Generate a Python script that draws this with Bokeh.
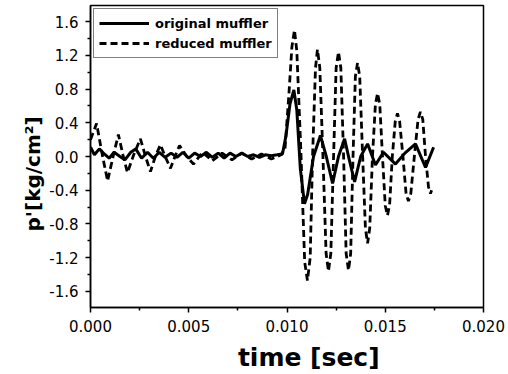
from bokeh.plotting import figure
from bokeh.models import Range1d, FixedTicker, PrintfTickFormatter, Legend, LegendItem
from bokeh.embed import file_html
from bokeh.resources import INLINE

# original muffler (solid)
orig_t = [0.0000, 0.00020, 0.00045, 0.00070, 0.00095, 0.00120, 0.00150, 0.00175,
          0.00205, 0.00230, 0.00260, 0.00290, 0.00320, 0.00350, 0.00380, 0.00410,
          0.00440, 0.00470, 0.00500, 0.00530, 0.00560, 0.00590, 0.00620, 0.00650,
          0.00680, 0.00710, 0.00740, 0.00770, 0.00800, 0.00830, 0.00860, 0.00890,
          0.00920, 0.00950, 0.00977, 0.00995, 0.01015, 0.01035, 0.01050, 0.01068,
          0.01089, 0.01105, 0.01135, 0.01170, 0.01200, 0.01232, 0.01262, 0.01293,
          0.01318, 0.01344, 0.01375, 0.01410, 0.01450, 0.01491, 0.01552, 0.01600,
          0.01654, 0.01705, 0.01746]
orig_p = [0.11, 0.02, 0.09, 0.03, -0.02, 0.05, 0.00, -0.04,
          0.05, 0.09, -0.02, 0.05, -0.02, 0.05, -0.01, 0.04,
          -0.01, 0.05, -0.02, 0.04, 0.00, 0.05, -0.01, 0.04,
          -0.02, 0.04, 0.00, 0.04, 0.00, 0.02, -0.01, 0.02,
          0.01, 0.02, 0.03, 0.25, 0.62, 0.79, 0.55, -0.15,
          -0.56, -0.45, 0.00, 0.25, 0.00, -0.32, 0.00, 0.21,
          -0.05, -0.30, 0.00, 0.15, -0.10, 0.05, -0.09, 0.04,
          0.15, -0.13, 0.11]

# reduced muffler (dashed)
red_t = [0.0000, 0.00031, 0.00060, 0.00087, 0.00115, 0.00142, 0.00165, 0.00188,
         0.00220, 0.00254, 0.00280, 0.00305, 0.00330, 0.00356, 0.00380, 0.00407,
         0.00430, 0.00453, 0.00490, 0.00524, 0.00570, 0.00620, 0.00670, 0.00720,
         0.00770, 0.00820, 0.00870, 0.00920, 0.00970, 0.00990, 0.01010, 0.01025,
         0.01038, 0.01050, 0.01070, 0.01090, 0.01104, 0.01118, 0.01130, 0.01145,
         0.01155, 0.01167, 0.01183, 0.01199, 0.01211, 0.01223, 0.01237, 0.01250,
         0.01262, 0.01274, 0.01288, 0.01301, 0.01313, 0.01324, 0.01336, 0.01348,
         0.01359, 0.01370, 0.01385, 0.01399, 0.01410, 0.01421, 0.01435, 0.01450,
         0.01461, 0.01472, 0.01486, 0.01500, 0.01511, 0.01522, 0.01536, 0.01551,
         0.01562, 0.01573, 0.01590, 0.01606, 0.01618, 0.01630, 0.01648, 0.01667,
         0.01679, 0.01691, 0.01705, 0.01720, 0.01730, 0.01736]
red_p = [0.20, 0.39, 0.02, -0.29, 0.00, 0.26, 0.02, -0.19,
         0.02, 0.21, 0.00, -0.18, 0.00, 0.14, 0.00, -0.14,
         0.00, 0.13, 0.00, -0.09, 0.05, -0.05, 0.04, -0.04,
         0.04, -0.03, 0.03, -0.03, 0.02, 0.10, 0.75, 1.30,
         1.50, 1.25, 0.10, -1.25, -1.47, -1.20, 0.00, 1.05,
         1.27, 1.05, 0.00, -1.15, -1.36, -1.15, 0.00, 1.05,
         1.24, 1.05, 0.00, -1.15, -1.35, -1.15, 0.00, 0.95,
         1.11, 0.95, 0.00, -0.85, -1.03, -0.85, 0.00, 0.62,
         0.75, 0.62, 0.00, -0.58, -0.70, -0.58, 0.00, 0.42,
         0.51, 0.42, 0.00, -0.44, -0.53, -0.44, 0.00, 0.44,
         0.53, 0.44, 0.00, -0.36, -0.44, -0.40]

x_ticks = [0.000, 0.005, 0.010, 0.015, 0.020]
x_minor = [0.0025, 0.0075, 0.0125, 0.0175]
y_ticks = [-1.6, -1.2, -0.8, -0.4, 0.0, 0.4, 0.8, 1.2, 1.6]
y_minor = [-1.4, -1.0, -0.6, -0.2, 0.2, 0.6, 1.0, 1.4]

p = figure(width=508, height=374, output_backend="svg", toolbar_location=None,
           x_range=Range1d(0, 0.020), y_range=Range1d(-1.79, 1.79),
           min_border_left=90, min_border_right=25, min_border_top=5,
           min_border_bottom=67)

p.xgrid.visible = False
p.ygrid.visible = False
p.outline_line_color = "black"
p.outline_line_width = 1.5
p.background_fill_color = "white"
p.border_fill_color = "white"

r1 = p.line(orig_t, orig_p, line_color="black", line_width=3)
r2 = p.line(red_t, red_p, line_color="black", line_width=2.8, line_dash="7 4")

for ax, ticks, minor, fmt in ((p.xaxis[0], x_ticks, x_minor, "%.3f"),
                              (p.yaxis[0], y_ticks, y_minor, "%.1f")):
    ax.ticker = FixedTicker(ticks=ticks, minor_ticks=minor)
    ax.formatter = PrintfTickFormatter(format=fmt)
    ax.axis_line_color = "black"
    ax.axis_line_width = 1.5
    ax.major_tick_line_width = 1.5
    ax.minor_tick_line_width = 1.5
    ax.major_tick_in = 0
    ax.major_tick_out = 5
    ax.minor_tick_in = 0
    ax.minor_tick_out = 3
    ax.major_label_text_font = "DejaVu Sans"
    ax.major_label_text_font_size = "15px"
    ax.major_label_text_color = "black"
    ax.axis_label_text_font = "DejaVu Sans"
    ax.axis_label_text_font_style = "bold"
    ax.axis_label_text_color = "black"

NB = "\u00a0"
p.xaxis.axis_label = NB * 5 + "time [sec]"
p.xaxis.axis_label_text_font_size = "25px"
p.xaxis.major_label_standoff = 7
p.xaxis.axis_label_standoff = 8
p.yaxis.axis_label = "p'[kg/cm²]" + NB * 5
p.yaxis.axis_label_text_font_size = "20px"
p.yaxis.major_label_standoff = 7
p.yaxis.axis_label_standoff = 1

legend = Legend(items=[LegendItem(label="original muffler", renderers=[r1]),
                       LegendItem(label="reduced muffler", renderers=[r2])],
                location="top_left")
legend.margin = 3
legend.padding = 5
legend.spacing = 2
legend.glyph_width = 50
legend.glyph_height = 18
legend.label_height = 18
legend.label_width = 116
legend.label_standoff = 6
legend.label_text_font = "DejaVu Sans"
legend.label_text_font_style = "bold"
legend.label_text_font_size = "13px"
legend.label_text_color = "black"
legend.border_line_color = "black"
legend.border_line_width = 1.5
legend.background_fill_alpha = 1.0
p.add_layout(legend)

open("out.html", "w").write(file_html(p, INLINE))
